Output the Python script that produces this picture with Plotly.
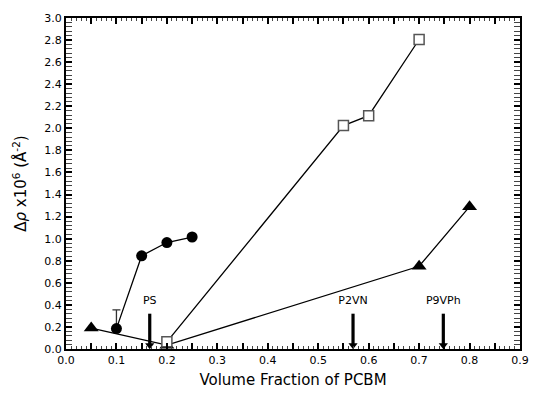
import plotly.graph_objects as go

# Data
circ_x = [0.10, 0.15, 0.20, 0.25]
circ_y = [0.185, 0.845, 0.965, 1.015]
circ_err_plus = [0.17, 0, 0, 0]

sq_x = [0.20, 0.55, 0.60, 0.70]
sq_y = [0.065, 2.025, 2.115, 2.805]

tri_x = [0.05, 0.20, 0.70, 0.80]
tri_y = [0.19, 0.035, 0.75, 1.29]

arrow_labels = ["PS", "P2VN", "P9VPh"]
arrow_x = [0.166, 0.569, 0.748]
arrow_top = [0.32, 0.32, 0.32]
arrow_head = [0.035, 0.035, 0.035]
label_y = [0.43, 0.43, 0.43]

FONT = "DejaVu Sans"

fig = go.Figure()
fig.add_trace(go.Scatter(
    x=tri_x, y=tri_y, mode="lines+markers",
    line=dict(color="black", width=1.3),
    marker=dict(symbol="triangle-up", size=13, color="black"),
    cliponaxis=False, showlegend=False))
fig.add_trace(go.Scatter(
    x=sq_x, y=sq_y, mode="lines+markers",
    line=dict(color="black", width=1.3),
    marker=dict(symbol="square", size=10, color="white",
                line=dict(color="#555555", width=1.5)),
    cliponaxis=False, showlegend=False))
fig.add_trace(go.Scatter(
    x=circ_x, y=circ_y, mode="lines+markers",
    line=dict(color="black", width=1.3),
    marker=dict(symbol="circle", size=11, color="black"),
    error_y=dict(type="data", symmetric=False, array=circ_err_plus,
                 arrayminus=[0, 0, 0, 0], color="#333333", thickness=1.3, width=4),
    cliponaxis=False, showlegend=False))

# arrows (shaft + head) and labels
for xv, yt, yh in zip(arrow_x, arrow_top, arrow_head):
    fig.add_trace(go.Scatter(
        x=[xv, xv], y=[yt, yh], mode="lines",
        line=dict(color="black", width=3.2),
        cliponaxis=False, showlegend=False, hoverinfo="skip"))
fig.add_trace(go.Scatter(
    x=arrow_x, y=arrow_head, mode="markers",
    marker=dict(symbol="triangle-down", size=8, color="black"),
    cliponaxis=False, showlegend=False, hoverinfo="skip"))
fig.add_trace(go.Scatter(
    x=arrow_x, y=label_y, mode="text", text=arrow_labels,
    textfont=dict(family=FONT, size=11, color="black"),
    cliponaxis=False, showlegend=False, hoverinfo="skip"))

# invisible trace on the secondary x axis to carry its ticks
fig.add_trace(go.Scatter(x=[0, 0.9], y=[None, None], xaxis="x2",
                         mode="markers", showlegend=False, hoverinfo="skip"))

fig.update_layout(
    width=537, height=397,
    margin=dict(l=66, r=8, t=18, b=48),
    paper_bgcolor="white", plot_bgcolor="white",
    font=dict(family=FONT, size=11, color="black"),
    xaxis=dict(
        range=[0, 0.9], dtick=0.1, tickformat=".1f",
        ticks="inside", ticklen=6, tickwidth=2, tickcolor="black",
        showline=True, linewidth=2, linecolor="black", mirror="allticks",
        showgrid=False, zeroline=False,
        tickfont=dict(family=FONT, size=11),
        minor=dict(dtick=0.01, ticks="inside", ticklen=3, tickwidth=1,
                   tickcolor="#444444", showgrid=False),
        title=dict(text="Volume Fraction of PCBM",
                   font=dict(family=FONT, size=15), standoff=8),
    ),
    xaxis2=dict(
        range=[0, 0.9], dtick=0.05, overlaying="x", anchor="y", side="bottom",
        ticks="inside", ticklen=6, tickwidth=2, tickcolor="black",
        showticklabels=False, showline=False, mirror="allticks",
        showgrid=False, zeroline=False,
    ),
    yaxis=dict(
        range=[0, 3.0], dtick=0.2, tickformat=".1f",
        ticks="inside", ticklen=6, tickwidth=2, tickcolor="black",
        showline=True, linewidth=2, linecolor="black", mirror="allticks",
        showgrid=False, zeroline=False,
        tickfont=dict(family=FONT, size=11),
        minor=dict(dtick=0.04, ticks="inside", ticklen=3, tickwidth=1,
                   tickcolor="#444444", showgrid=False),
        title=dict(text="Δ<i>ρ</i> x10<sup>6</sup> (Å<sup>-2</sup>)",
                   font=dict(family=FONT, size=15), standoff=14),
    ),
)

fig.write_html("out.html")
